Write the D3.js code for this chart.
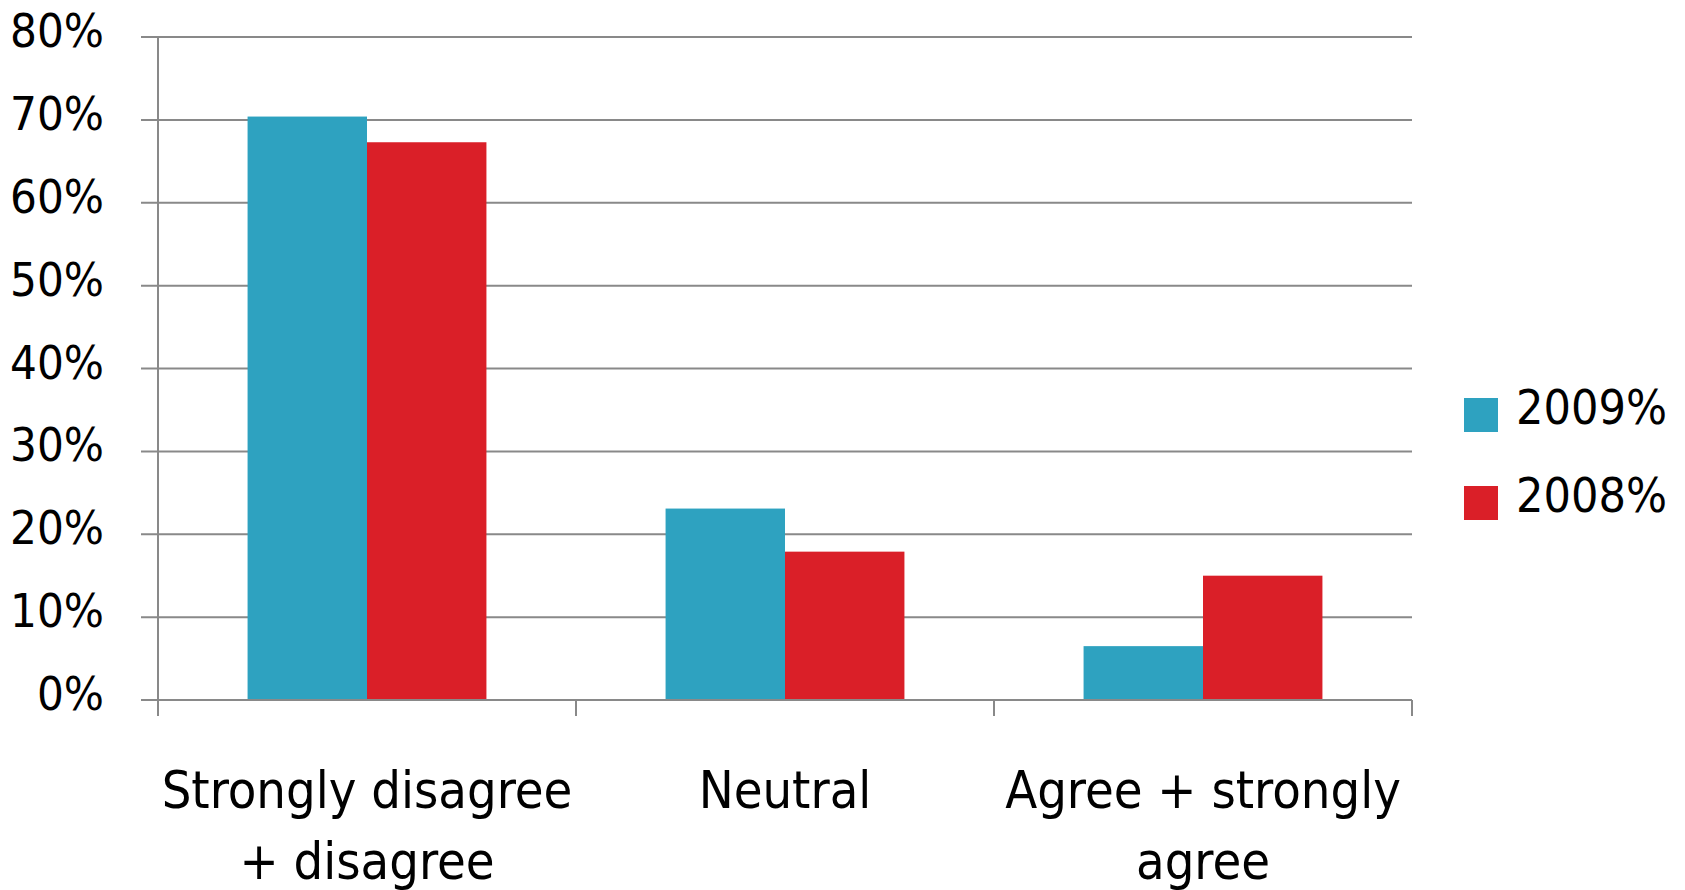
<!DOCTYPE html>
<html>
<head>
<meta charset="utf-8">
<script src="https://cdn.jsdelivr.net/npm/d3@7"></script>
<style>
  html, body { margin: 0; padding: 0; background: #fff; }
  svg { display: block; }
  text { font-family: "DejaVu Sans Condensed", "DejaVu Sans", sans-serif; font-stretch: condensed; fill: #000; }
</style>
</head>
<body>
<svg id="chart" width="1685" height="890"></svg>
<script>
// Survey responses, share of respondents per answer group
const categories = [["Strongly disagree", "+ disagree"], ["Neutral"], ["Agree + strongly", "agree"]];
const seriesNames = ["2009%", "2008%"];
const values2009 = [0.704, 0.231, 0.065];
const values2008 = [0.673, 0.179, 0.150];
const yTicks = [0, 0.1, 0.2, 0.3, 0.4, 0.5, 0.6, 0.7, 0.8];
const colors = ["#2ea2c0", "#da1f28"];

const svg = d3.select("#chart");
const plotLeft = 158, plotRight = 1412, plotTop = 37, plotBottom = 700;

const catKeys = categories.map(c => c.join(" "));
const x0 = d3.scaleBand().domain(catKeys).range([plotLeft, plotRight]).padding(0);
const x1 = d3.scaleBand().domain(seriesNames).range([0, x0.bandwidth()])
  .paddingInner(0).paddingOuter(0.75);
const y = d3.scaleLinear().domain([0, 0.8]).range([plotBottom, plotTop]);

const grid = "#898989";

// horizontal gridlines with small outward ticks
svg.append("g").selectAll("line").data(yTicks).join("line")
  .attr("x1", plotLeft - 17).attr("x2", plotRight)
  .attr("y1", d => y(d)).attr("y2", d => y(d))
  .attr("stroke", grid).attr("stroke-width", 2);

// y axis labels
svg.append("g").selectAll("text").data(yTicks).join("text")
  .attr("x", 104).attr("y", d => y(d) + 10)
  .attr("text-anchor", "end")
  .style("font-size", "47px")
  .text(d => d3.format(".0%")(d));

// bars
const series = [values2009, values2008];
const gBars = svg.append("g");
seriesNames.forEach((s, si) => {
  gBars.append("g").selectAll("rect").data(series[si]).join("rect")
    .attr("x", (d, i) => x0(catKeys[i]) + x1(s))
    .attr("y", d => y(d))
    .attr("width", x1.bandwidth())
    .attr("height", d => y(0) - y(d))
    .attr("fill", colors[si]);
});

// axis lines
svg.append("line").attr("x1", plotLeft).attr("x2", plotLeft).attr("y1", plotTop).attr("y2", plotBottom + 16)
  .attr("stroke", grid).attr("stroke-width", 2);
svg.append("line").attr("x1", plotLeft - 17).attr("x2", plotRight).attr("y1", plotBottom).attr("y2", plotBottom)
  .attr("stroke", grid).attr("stroke-width", 2);
// category boundary ticks
svg.append("g").selectAll("line").data(catKeys).join("line")
  .attr("x1", d => x0(d) + x0.bandwidth()).attr("x2", d => x0(d) + x0.bandwidth())
  .attr("y1", plotBottom).attr("y2", plotBottom + 16)
  .attr("stroke", grid).attr("stroke-width", 2);

// category labels
const catG = svg.append("g").selectAll("text").data(categories).join("text")
  .attr("text-anchor", "middle")
  .style("font-size", "52px");
catG.each(function(lines, i) {
  const cx = x0(catKeys[i]) + x0.bandwidth() / 2;
  d3.select(this).selectAll("tspan").data(lines).join("tspan")
    .attr("x", cx)
    .attr("y", (d, j) => 808 + j * 71)
    .text(d => d);
});

// legend
const legend = svg.append("g").selectAll("g").data(seriesNames).join("g")
  .attr("transform", (d, i) => `translate(1464, ${398 + i * 88})`);
legend.append("rect").attr("width", 34).attr("height", 34).attr("fill", (d, i) => colors[i]);
legend.append("text").attr("x", 52).attr("y", 26)
  .style("font-size", "48px").text(d => d);
</script>
</body>
</html>
